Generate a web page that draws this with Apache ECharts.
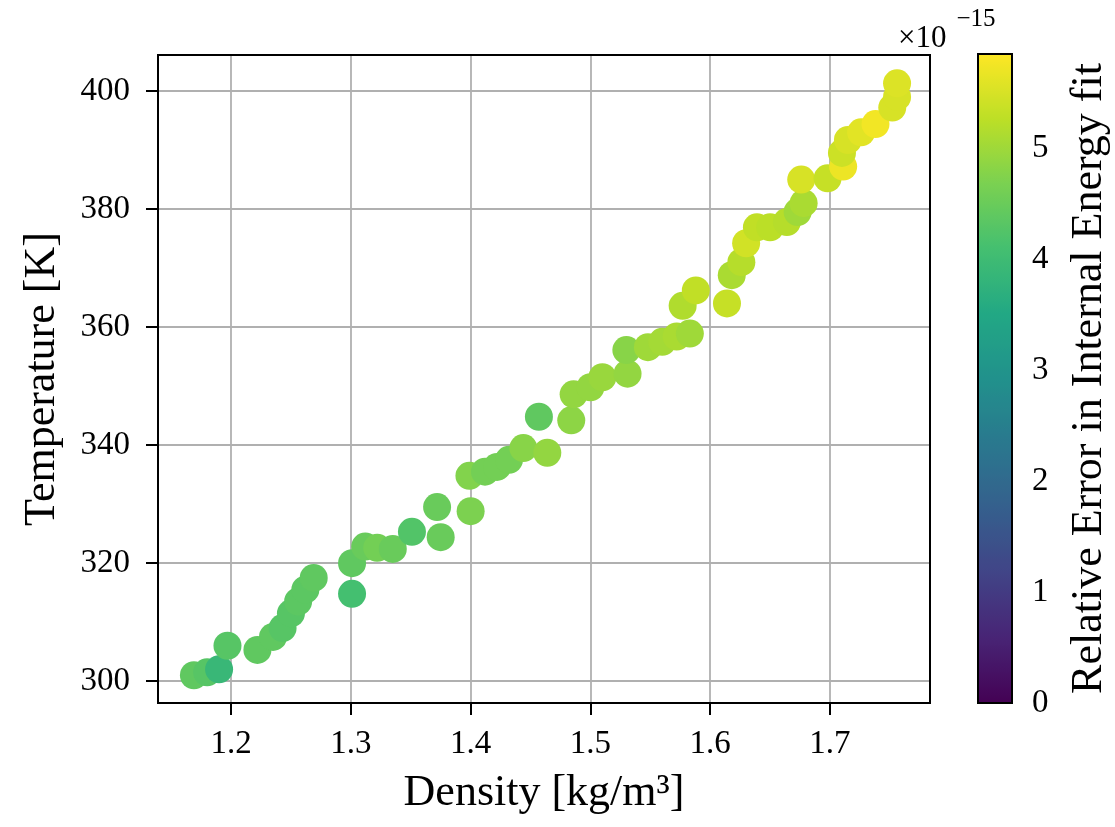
<!DOCTYPE html>
<html>
<head>
<meta charset="utf-8">
<script src="https://cdn.jsdelivr.net/npm/echarts@6/dist/echarts.min.js"></script>
<style>
  html, body { margin: 0; padding: 0; background: #fff; }
  #chart { width: 1115px; height: 827px; }
</style>
</head>
<body>
<div id="chart"></div>
<script>
// Density [kg/m^3] of each sample
const density = [
  1.169, 1.180, 1.190, 1.197, 1.222, 1.235, 1.243, 1.250, 1.256, 1.262,
  1.269, 1.301, 1.301, 1.312, 1.322, 1.335, 1.351, 1.372, 1.375, 1.400,
  1.399, 1.412, 1.422, 1.432, 1.444, 1.464, 1.457, 1.484, 1.486, 1.500,
  1.510, 1.531, 1.530, 1.548, 1.560, 1.572, 1.583, 1.577, 1.588, 1.614,
  1.618, 1.626, 1.630, 1.639, 1.650, 1.664, 1.673, 1.678, 1.676, 1.698,
  1.711, 1.710, 1.715, 1.726, 1.738, 1.752, 1.756, 1.756
];
// Temperature [K] of each sample
const temperature = [
  301.0, 301.5, 302.0, 306.0, 305.3, 307.5, 309.0, 311.5, 313.5, 315.5,
  317.5, 314.8, 320.0, 322.8, 322.6, 322.4, 325.3, 329.5, 324.4, 328.8,
  334.8, 335.5, 336.3, 337.5, 339.5, 338.7, 344.8, 344.2, 348.6, 349.8,
  351.5, 352.1, 356.1, 356.6, 357.5, 358.4, 358.9, 363.6, 366.2, 364.0,
  368.8, 371.0, 374.2, 376.9, 376.9, 377.8, 379.5, 381.0, 385.0, 385.2,
  387.2, 389.5, 391.7, 393.0, 394.4, 397.2, 399.0, 401.3
];
// Relative error in the internal energy fit, in units of 1e-15
const relError = [
  4.40, 4.30, 3.90, 4.30, 4.40, 4.40, 4.30, 4.30, 4.35, 4.35,
  4.40, 4.10, 4.40, 4.50, 4.60, 4.50, 4.25, 4.50, 4.50, 4.70,
  4.75, 4.60, 4.60, 4.60, 4.80, 4.90, 4.40, 4.85, 4.90, 4.90,
  4.95, 4.90, 4.80, 5.00, 5.05, 5.10, 5.00, 5.15, 5.30, 5.35,
  5.10, 5.20, 5.45, 5.30, 5.25, 5.20, 5.00, 5.10, 5.50, 5.35,
  5.70, 5.40, 5.50, 5.60, 5.75, 5.50, 5.50, 5.55
];

const xTicks = [1.2, 1.3, 1.4, 1.5, 1.6, 1.7];
const yTicks = [300, 320, 340, 360, 380, 400];
const cbTicks = [0, 1, 2, 3, 4, 5];
const cbMax = 5.85;

const viridis = ['#440154', '#482475', '#414487', '#355f8d', '#2a788e',
  '#21918c', '#22a884', '#44bf70', '#7ad151', '#bddf26', '#fde725'];

const points = density.map((d, i) => [d, temperature[i], relError[i]]);

const FONT = 'Liberation Serif';
const axisText = { fontFamily: FONT, fontSize: 33, color: '#000' };
const nameText = { fontFamily: FONT, fontSize: 44, color: '#000' };

const chart = echarts.init(document.getElementById('chart'), null, { renderer: 'canvas' });

chart.setOption({
  backgroundColor: '#fff',
  animation: false,
  title: {
    left: 893, top: 0,
    text: '{a|×10}{b|−15}',
    textStyle: {
      fontWeight: 'normal',
      rich: {
        a: { fontFamily: FONT, fontSize: 31, fontWeight: 'normal', color: '#000', padding: [18, 0, 0, 0] },
        b: { fontFamily: FONT, fontSize: 25, fontWeight: 'normal', color: '#000', padding: [0, 0, 20, 10] }
      }
    }
  },
  grid: [
    { left: 158, top: 55, width: 772, height: 648, show: true,
      borderColor: '#000', borderWidth: 2, backgroundColor: 'transparent', z: 5 },
    { left: 978, top: 54, width: 34, height: 649, show: true,
      borderColor: '#000', borderWidth: 2, backgroundColor: 'transparent', z: 10 }
  ],
  xAxis: [
    {
      gridIndex: 0, type: 'value', min: 1.139, max: 1.7835,
      name: 'Density [kg/m³]', nameLocation: 'middle', nameGap: 68,
      nameTextStyle: nameText,
      axisLine: { show: true, lineStyle: { color: '#000', width: 2 } },
      axisTick: { show: true, customValues: xTicks, length: 12, lineStyle: { color: '#000', width: 2 } },
      axisLabel: Object.assign({ customValues: xTicks, margin: 25,
        formatter: v => v.toFixed(1) }, axisText),
      splitLine: { show: true, lineStyle: { color: '#b0b0b0', width: 1.8 } }
    },
    { gridIndex: 1, type: 'value', min: 0, max: 1, show: false }
  ],
  yAxis: [
    {
      gridIndex: 0, type: 'value', min: 296.3, max: 406.1,
      name: 'Temperature [K]', nameLocation: 'middle', nameGap: 94, nameRotate: 90,
      nameTextStyle: nameText,
      axisLine: { show: true, lineStyle: { color: '#000', width: 2 } },
      axisTick: { show: true, customValues: yTicks, length: 12, lineStyle: { color: '#000', width: 2 } },
      axisLabel: Object.assign({ customValues: yTicks, margin: 28 }, axisText),
      splitLine: { show: true, lineStyle: { color: '#b0b0b0', width: 1.8 } }
    },
    {
      gridIndex: 1, type: 'value', min: 0, max: cbMax, position: 'right',
      name: 'Relative Error in Internal Energy fit', nameLocation: 'middle',
      nameGap: 55, nameRotate: 90,
      nameTextStyle: nameText,
      axisLine: { show: false },
      axisTick: { show: true, customValues: cbTicks, length: 12, lineStyle: { color: '#000', width: 2 } },
      axisLabel: Object.assign({ customValues: cbTicks, margin: 20 }, axisText),
      splitLine: { show: false }
    }
  ],
  visualMap: {
    type: 'continuous', min: 0, max: cbMax, dimension: 2, seriesIndex: 0,
    inRange: { color: viridis },
    calculable: false, hoverLink: false,
    left: 978, top: 54, itemWidth: 34, itemHeight: 649, padding: 0,
    orient: 'vertical', textGap: 0
  },
  series: [{
    type: 'scatter',
    xAxisIndex: 0, yAxisIndex: 0,
    data: points,
    symbol: 'circle',
    symbolSize: 28,
    itemStyle: { opacity: 1 }
  }]
});
</script>
</body>
</html>
